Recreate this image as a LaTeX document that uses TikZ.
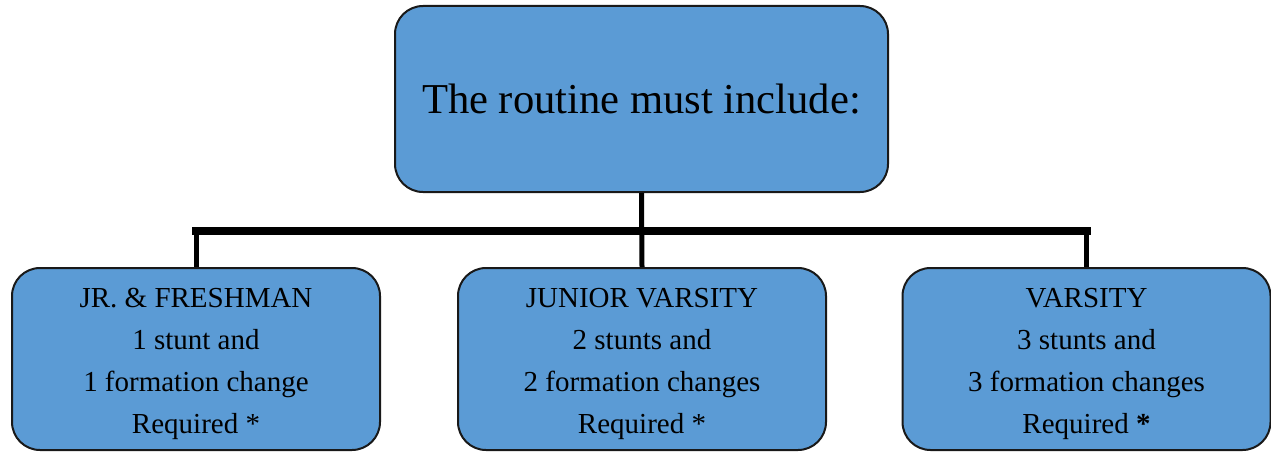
\documentclass[tikz,border=0pt]{standalone}
\usepackage{fontspec}
\setmainfont{Liberation Serif}
\definecolor{boxblue}{HTML}{5B9BD5}
\newcommand{\topstrut}{\rule{0pt}{29pt}}
\begin{document}
\begin{tikzpicture}[x=1pt,y=-1pt,
  box/.style={draw=black!90, line width=2pt, fill=boxblue, rounded corners=28pt, inner sep=0pt, align=center},
  topbox/.style={box, minimum width=493pt, minimum height=186pt, font=\fontsize{42.6}{50}\selectfont},
  childbox/.style={box, minimum width=368pt, minimum height=182pt, font=\fontsize{29}{42}\selectfont},
  stem/.style={line width=5pt},
  bar/.style={line width=8pt, line cap=rect}]
\useasboundingbox (0,0) rectangle (1271,452);
\node[topbox] (top) at (641.5,99) {The routine must include:};
\node[childbox] (jr) at (196,359) {\topstrut JR. \& FRESHMAN\\1 stunt and\\1 formation change\\Required *};
\node[childbox] (jv) at (642,359) {\topstrut JUNIOR VARSITY\\2 stunts and\\2 formation changes\\Required *};
\node[childbox] (v) at (1086.5,359) {\topstrut VARSITY\\3 stunts and\\3 formation changes\\Required \textbf{*}};
\coordinate (barl) at (196,231);
\coordinate (barr) at (1086.5,231);
\draw[bar] (barl) -- (barr);
\draw[stem] (top.south) -- (jv.north);
\draw[stem] (barl) -- (jr.north);
\draw[stem] (barr) -- (v.north);
\end{tikzpicture}
\end{document}
